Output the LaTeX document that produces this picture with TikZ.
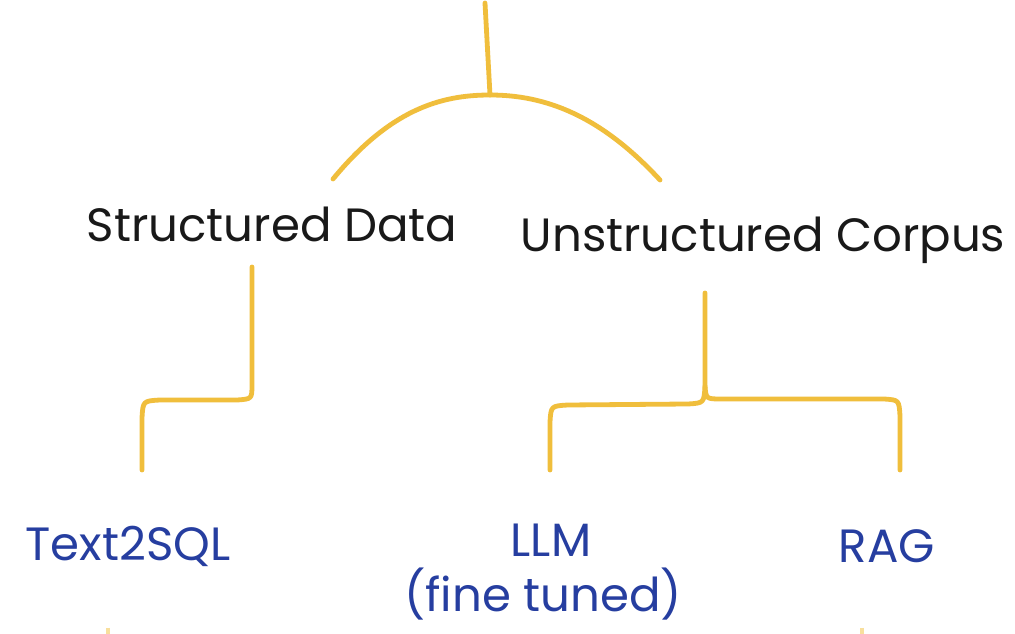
\documentclass[tikz,border=0pt]{standalone}
\usepackage{fontspec}
\setmainfont{Poppins}
\usetikzlibrary{calc}
\definecolor{linkorange}{RGB}{240,190,60}
\definecolor{inkblack}{RGB}{25,25,25}
\definecolor{inkblue}{RGB}{38,62,160}
\begin{document}
\begin{tikzpicture}[x=0.75pt,y=-0.75pt,
  link/.style={draw=linkorange,line width=3.6pt,line cap=round,line join=round},
  stub/.style={draw=linkorange!50,line width=3.6pt},
  heading/.style={text=inkblack,font=\fontsize{35}{40}\selectfont,inner sep=0pt,anchor=center},
  method/.style={text=inkblue,font=\fontsize{35}{40}\selectfont,inner sep=0pt,anchor=center}]
\useasboundingbox[fill=white] (0,0) rectangle (1015,634);

% labels
\node[heading] (sd)  at (272,224) {Structured Data};
\node[heading] (uc)  at (763,240) {Unstructured Corpus};
\node[method]  (t2s) at (128,546) {Text2SQL};
\node[method]  (llm) at (551,540) {LLM};
\node[method]  (ft)  at (543,594) {(fine tuned)};
\node[method]  (rag) at (887,546) {RAG};

% anchor points of the connectors
\coordinate (root) at (485,3);
\coordinate (peak) at (490,95);
\coordinate (sdtop) at (333,179);
\coordinate (uctop) at (660,180);
\coordinate (sdbot) at (252,267);
\coordinate (ucbot) at (705,293);
\coordinate (fork) at (705,386);
\coordinate (t2stop) at (142,470);
\coordinate (llmtop) at (550,470);
\coordinate (ragtop) at (900,470);

% split into the two kinds of source
\path[link] (root) -- (peak);
\path[link] (sdtop) .. controls (390,110) and (440,95) .. (peak)
            .. controls (545,95) and (600,115) .. (uctop);

% structured data: one branch
\path[link] (sdbot) -- (252,384) .. controls (252,399) .. (237,400)
            -- (160,400) .. controls (143,401) .. (142,418) -- (t2stop);

% unstructured corpus: two branches
\path[link] (ucbot) -- (fork) .. controls (704,403) .. (688,404)
            -- (568,405) .. controls (551,406) .. (550,422) -- (llmtop);
\path[link] (fork) .. controls (706,399) .. (722,399)
            -- (884,399) .. controls (899,400) .. (900,416) -- (ragtop);

% arrows leaving below the edge
\coordinate (t2sout) at (108,634);
\coordinate (ragout) at (862,634);
\path[stub] ($(t2sout)+(0,-6)$) -- (t2sout);
\path[stub] ($(ragout)+(0,-6)$) -- (ragout);
\end{tikzpicture}
\end{document}
